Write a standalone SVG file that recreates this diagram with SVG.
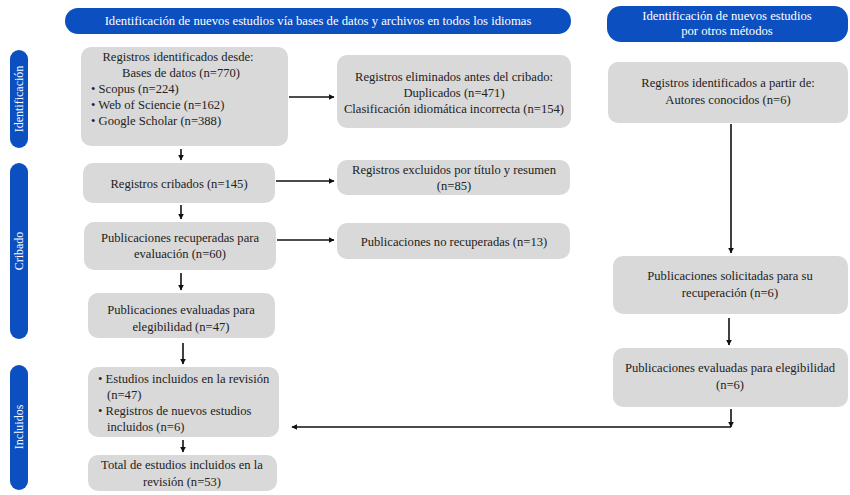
<svg xmlns="http://www.w3.org/2000/svg" width="850" height="495" viewBox="0 0 850 495">
<defs>
<marker id="ah" viewBox="0 0 10 10" refX="9" refY="5" markerWidth="6" markerHeight="6" orient="auto" markerUnits="userSpaceOnUse"><path d="M0,0 L10,5 L0,10 z" fill="#111"/></marker>
</defs>
<style>
.bn{fill:#0b4fc0}
.bt{font-family:"Liberation Serif",serif;font-size:12.7px;fill:#fff;text-anchor:middle}
.st{font-family:"Liberation Serif",serif;font-size:12px;fill:#fff;text-anchor:middle}
.bx{fill:#d9d9d9}
.t{font-family:"Liberation Serif",serif;font-size:12.6px;fill:#222;text-anchor:middle}
.tl{font-family:"Liberation Serif",serif;font-size:12.6px;fill:#222}
.c{stroke:#111;stroke-width:1.6;fill:none}
</style>
<rect width="850" height="495" fill="#fff"/>
<g id="banner-main"><rect class="bn" x="65" y="8" width="506" height="26" rx="13"/><text class="bt" x="318" y="25">Identificación de nuevos estudios vía bases de datos y archivos en todos los idiomas</text></g>
<g id="banner-other"><rect class="bn" x="607" y="6" width="241" height="36" rx="14"/><text class="bt" x="727" y="20">Identificación de nuevos estudios</text><text class="bt" x="727" y="35">por otros métodos</text></g>
<g id="side-identificacion"><rect class="bn" x="10" y="50" width="18" height="98" rx="9"/><text class="st" transform="translate(23,99) rotate(-90)">Identificación</text></g>
<g id="side-cribado"><rect class="bn" x="10" y="163" width="18" height="176" rx="9"/><text class="st" transform="translate(23,251) rotate(-90)">Cribado</text></g>
<g id="side-incluidos"><rect class="bn" x="10" y="365" width="18" height="125" rx="9"/><text class="st" transform="translate(23,427) rotate(-90)">Incluidos</text></g>

<g id="n1"><rect class="bx" x="81" y="47" width="207" height="99" rx="10"/>
<text class="t" x="178" y="61">Registros identificados desde:</text>
<text class="t" x="181" y="77">Bases de datos (n=770)</text>
<text class="tl" x="91" y="93">• Scopus (n=224)</text>
<text class="tl" x="91" y="109">• Web of Sciencie (n=162)</text>
<text class="tl" x="91" y="125">• Google Scholar (n=388)</text></g>
<g id="n2"><rect class="bx" x="337" y="55" width="234" height="73" rx="10"/>
<text class="t" x="454" y="81">Registros eliminados antes del cribado:</text>
<text class="t" x="454" y="97">Duplicados (n=471)</text>
<text class="t" x="454" y="113">Clasificación idiomática incorrecta (n=154)</text></g>
<g id="n3"><rect class="bx" x="83" y="163" width="192" height="40" rx="10"/>
<text class="t" x="179" y="188">Registros cribados (n=145)</text></g>
<g id="n4"><rect class="bx" x="337" y="160" width="233" height="35" rx="10"/>
<text class="t" x="454" y="174">Registros excluidos por título y resumen</text>
<text class="t" x="454" y="190">(n=85)</text></g>
<g id="n5"><rect class="bx" x="84" y="222" width="192" height="48" rx="10"/>
<text class="t" x="180" y="242">Publicaciones recuperadas para</text>
<text class="t" x="180" y="258">evaluación (n=60)</text></g>
<g id="n6"><rect class="bx" x="337" y="223" width="233" height="36" rx="10"/>
<text class="t" x="454" y="246">Publicaciones no recuperadas (n=13)</text></g>
<g id="n7"><rect class="bx" x="88" y="293" width="187" height="45" rx="10"/>
<text class="t" x="181" y="314">Publicaciones evaluadas para</text>
<text class="t" x="181" y="331">elegibilidad (n=47)</text></g>
<g id="n8"><rect class="bx" x="88" y="367" width="191" height="70" rx="10"/>
<text class="tl" x="98" y="383">• Estudios incluidos en la revisión</text>
<text class="tl" x="107" y="399">(n=47)</text>
<text class="tl" x="98" y="415">• Registros de nuevos estudios</text>
<text class="tl" x="107" y="431">incluidos (n=6)</text></g>
<g id="n9"><rect class="bx" x="88" y="455" width="189" height="36" rx="10"/>
<text class="t" x="182" y="469">Total de estudios incluidos en la</text>
<text class="t" x="182" y="486">revisión (n=53)</text></g>
<g id="n10"><rect class="bx" x="608" y="62" width="240" height="61" rx="10"/>
<text class="t" x="728" y="87">Registros identificados a partir de:</text>
<text class="t" x="728" y="104">Autores conocidos (n=6)</text></g>
<g id="n11"><rect class="bx" x="613" y="256" width="235" height="58" rx="10"/>
<text class="t" x="730" y="280">Publicaciones solicitadas para su</text>
<text class="t" x="730" y="297">recuperación (n=6)</text></g>
<g id="n12"><rect class="bx" x="613" y="348" width="235" height="59" rx="10"/>
<text class="t" x="730" y="372">Publicaciones evaluadas para elegibilidad</text>
<text class="t" x="730" y="389">(n=6)</text></g>

<g id="connectors">
<path class="c" d="M289,97 H334" marker-end="url(#ah)"/>
<path class="c" d="M181,149 V160" marker-end="url(#ah)"/>
<path class="c" d="M276,181 H334" marker-end="url(#ah)"/>
<path class="c" d="M181,205 V219" marker-end="url(#ah)"/>
<path class="c" d="M277,240 H334" marker-end="url(#ah)"/>
<path class="c" d="M181,273 V290" marker-end="url(#ah)"/>
<path class="c" d="M183,343 V364" marker-end="url(#ah)"/>
<path class="c" d="M183,440 V452" marker-end="url(#ah)"/>
<path class="c" d="M731,124 V253" marker-end="url(#ah)"/>
<path class="c" d="M729,318 V345" marker-end="url(#ah)"/>
<path class="c" d="M731,409 V427" marker-end="url(#ah)"/>
<path class="c" d="M731,427 H292" marker-end="url(#ah)"/>
</g>
</svg>
